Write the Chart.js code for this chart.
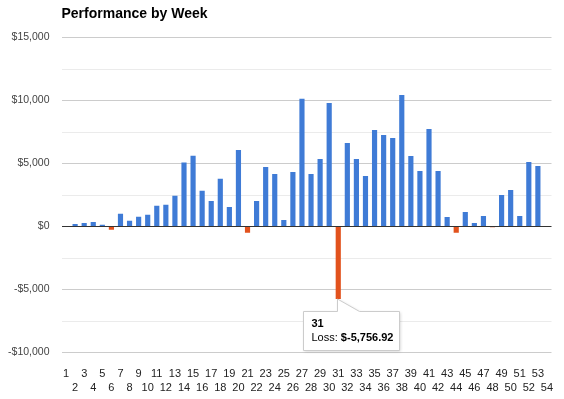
<!DOCTYPE html>
<html>
<head>
<meta charset="utf-8">
<script src="https://cdn.jsdelivr.net/npm/chart.js@4.4.1/dist/chart.umd.min.js"></script>
<style>
  html, body { margin: 0; padding: 0; background: #fff; }
  #wrap { width: 564px; height: 399px; }
</style>
</head>
<body>
<div id="wrap"><canvas id="c" width="564" height="399"></canvas></div>
<script>
const chartTitle = 'Performance by Week';
const weeks = ['1','2','3','4','5','6','7','8','9','10','11','12','13','14','15','16','17','18',
  '19','20','21','22','23','24','25','26','27','28','29','30','31','32','33','34','35','36',
  '37','38','39','40','41','42','43','44','45','46','47','48','49','50','51','52','53','54'];
const weeklyResult = [40, 190, 280, 360, 140, -260, 1010, 455, 775, 935, 1650, 1730, 2450, 5070, 5620, 2840, 2030, 3780,
  1550, 6070, -500, 2020, 4720, 4165, 510, 4325, 10130, 4165, 5360, 9810, -5756.92, 6630, 5360, 4005, 7660, 7260,
  7025, 10445, 5595, 4400, 7740, 4400, 745, -500, 1145, 270, 825, -60, 2500, 2895, 825, 5120, 4800, 0];
const yTicks = [-10000, -5000, 0, 5000, 10000, 15000];
const seriesNames = ['Profit', 'Loss'];
const tooltipWeek = '31';

const profit = weeklyResult.map(v => v >= 0 ? v : null);
const loss = weeklyResult.map(v => v < 0 ? v : null);

const FONT = "'Liberation Sans', Arial, sans-serif";

function money(v) {
  const s = '$' + Math.abs(v).toLocaleString('en-US');
  return v < 0 ? '-' + s : s;
}

const titlePlugin = {
  id: 'gTitle',
  afterDraw(chart) {
    const ctx = chart.ctx;
    ctx.save();
    ctx.font = 'bold 14px ' + FONT;
    ctx.fillStyle = '#000';
    ctx.textBaseline = 'middle';
    ctx.textAlign = 'left';
    ctx.fillText(chartTitle, chart.chartArea.left, 14);
    ctx.restore();
  }
};

const tipPlugin = {
  id: 'gTip',
  afterDraw(chart) {
    const idx = weeks.indexOf(tooltipWeek);
    const dsIndex = weeklyResult[idx] < 0 ? 1 : 0;
    const el = chart.getDatasetMeta(dsIndex).data[idx];
    if (!el) return;
    const px = el.x, py = el.y;
    const ctx = chart.ctx;
    const left = Math.round(px - 35) + 0.5;
    const top = Math.round(py + 12) + 0.5;
    const w = 96, h = 39;
    const cx = Math.round(px) - 0.5;
    ctx.save();
    ctx.beginPath();
    ctx.moveTo(left, top);
    ctx.lineTo(cx, top);
    ctx.lineTo(cx, py);
    ctx.lineTo(cx + 22, top);
    ctx.lineTo(left + w, top);
    ctx.lineTo(left + w, top + h);
    ctx.lineTo(left, top + h);
    ctx.closePath();
    ctx.shadowColor = 'rgba(0,0,0,0.18)';
    ctx.shadowBlur = 3;
    ctx.shadowOffsetX = 1;
    ctx.shadowOffsetY = 1;
    ctx.fillStyle = '#fff';
    ctx.fill();
    ctx.shadowColor = 'transparent';
    ctx.strokeStyle = '#cccccc';
    ctx.lineWidth = 1;
    ctx.stroke();
    ctx.fillStyle = '#000';
    ctx.textBaseline = 'middle';
    ctx.textAlign = 'left';
    ctx.font = 'bold 11px ' + FONT;
    ctx.fillText(weeks[idx], left + 8, top + 12);
    ctx.font = '11px ' + FONT;
    const lab = seriesNames[dsIndex] + ': ';
    ctx.fillText(lab, left + 8, top + 26);
    const lw = ctx.measureText(lab).width;
    ctx.font = 'bold 11px ' + FONT;
    const val = '$' + weeklyResult[idx].toLocaleString('en-US', {minimumFractionDigits: 2, maximumFractionDigits: 2});
    ctx.fillText(val, left + 8 + lw, top + 26);
    ctx.restore();
  }
};

new Chart(document.getElementById('c'), {
  type: 'bar',
  data: {
    labels: weeks,
    datasets: [
      { label: seriesNames[0], data: profit, backgroundColor: '#3f7bd6', barPercentage: 0.57, categoryPercentage: 1 },
      { label: seriesNames[1], data: loss, backgroundColor: '#e2521d', barPercentage: 0.57, categoryPercentage: 1 }
    ]
  },
  options: {
    responsive: false,
    animation: false,
    layout: { padding: { top: 37.5, right: 12.5, left: 0, bottom: 0 } },
    plugins: { legend: { display: false }, tooltip: { enabled: false }, title: { display: false } },
    scales: {
      x: {
        stacked: true,
        grid: { display: false },
        border: { display: false },
        ticks: {
          autoSkip: false, maxRotation: 0, minRotation: 0, padding: 6,
          color: '#222',
          font: { family: FONT, size: 11, lineHeight: '14px' },
          callback: (v, i) => i % 2 === 0 ? weeks[i] : ['', weeks[i]]
        },
        afterFit: s => { s.height = 46.5; }
      },
      y: {
        stacked: true,
        min: yTicks[0], max: yTicks[yTicks.length - 1],
        border: { display: false },
        grid: {
          drawTicks: false,
          color: c => c.tick.value === 0 ? '#333333' : (yTicks.includes(c.tick.value) ? '#cccccc' : '#ebebeb')
        },
        ticks: {
          stepSize: 2500, padding: 12, color: '#444',
          font: { family: FONT, size: 10.5 },
          callback: v => yTicks.includes(v) ? money(v) : ''
        },
        afterFit: s => { s.width = 61.5; }
      }
    }
  },
  plugins: [titlePlugin, tipPlugin]
});
</script>
</body>
</html>
